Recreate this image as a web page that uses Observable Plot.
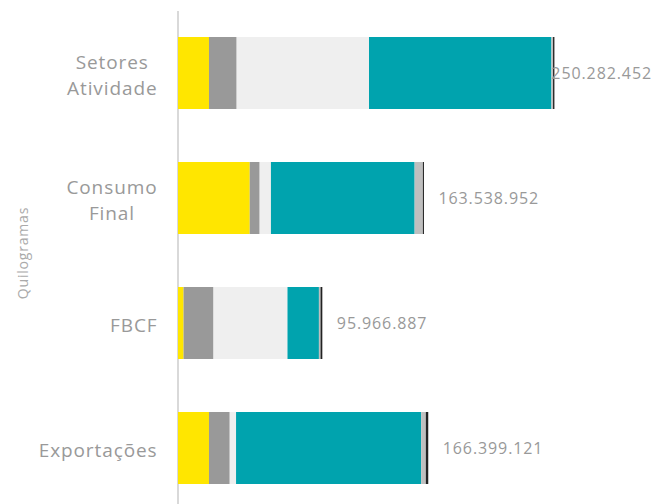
<!DOCTYPE html>
<html><head><meta charset="utf-8">
<script src="https://cdn.jsdelivr.net/npm/d3@7"></script>
<script src="https://cdn.jsdelivr.net/npm/@observablehq/plot@0.6"></script>
<style>
body{margin:0;background:#fff;}
g.cats text{letter-spacing:0.9px;}
g.totals text{letter-spacing:0.9px;}
g.ylab text{letter-spacing:0.8px;}
</style>
</head><body><div id="chart"></div>
<script>
const categories = ["Setores\nAtividade", "Consumo\nFinal", "FBCF", "Exportações"];
const totals = [250282452, 163538952, 95966887, 166399121];
const seriesNames = ["Série 1", "Série 2", "Série 3", "Série 4", "Série 5", "Série 6"];
const seriesColors = ["#FFE600", "#999999", "#EFEFEF", "#00A3AE", "#BFBFBF", "#222222"];
const s1 = [20600000, 47700000, 3700000, 20600000];
const s2 = [18400000, 6600000, 19900000, 13800000];
const s3 = [88000000, 7500000, 49200000, 4200000];
const s4 = [121282452, 95538952, 20900000, 123099121];
const s5 = [1100000, 5500000, 1100000, 3100000];
const s6 = [900000, 700000, 1166887, 1600000];
const yLabel = "Quilogramas";

const seriesValues = [s1, s2, s3, s4, s5, s6];
const data = [];
categories.forEach((c, i) => seriesValues.forEach((vals, j) =>
  data.push({category: c, series: seriesNames[j], value: vals[i]})));
const totalRows = categories.map((c, i) => ({category: c, total: totals[i]}));
const fmt = d3.formatLocale({decimal: ",", thousands: ".", grouping: [3], currency: ["", ""]}).format(",d");

const chart = Plot.plot({
  width: 657, height: 504,
  marginTop: 11, marginBottom: 0, marginLeft: 178, marginRight: 0,
  style: {fontFamily: "'Open Sans', sans-serif", background: "#fff"},
  x: {domain: [0, 318.5e6], axis: null},
  y: {domain: categories, range: [11, 504], paddingInner: 0.426, paddingOuter: 0.185, align: 0.569, axis: null},
  color: {domain: seriesNames, range: seriesColors},
  marks: [
    Plot.ruleX([0], {stroke: "#d9d9d9", strokeWidth: 2, dx: -0.5}),
    Plot.barX(data, {x: "value", y: "category", fill: "series"}),
    Plot.text(totalRows, {x: "total", y: "category", text: d => fmt(d.total), dx: 14, textAnchor: "start", fill: "#999", fontSize: 16, className: "totals"}),
    Plot.text(categories, {y: d => d, text: d => d, frameAnchor: "left", dx: -21, textAnchor: "end", lineHeight: 1.37, fontSize: 19, fill: "#999", className: "cats"}),
    Plot.text([yLabel], {text: d => d, frameAnchor: "left", dx: -155, dy: -5, rotate: -90, textAnchor: "middle", fontSize: 14, fill: "#aaa", className: "ylab"})
  ]
});
document.getElementById("chart").appendChild(chart);

// center multi-line category labels within a right-aligned block
chart.querySelectorAll("g.cats text").forEach(t => {
  const spans = t.querySelectorAll("tspan");
  if (spans.length > 1) {
    const W = Math.max(...Array.from(spans, s => s.getComputedTextLength()));
    t.setAttribute("text-anchor", "middle");
    spans.forEach(s => s.setAttribute("x", -W / 2));
  }
});
// keep total labels inside the chart
const box = chart.getBoundingClientRect();
chart.querySelectorAll("g.totals text").forEach(t => {
  const r = t.getBoundingClientRect();
  const over = r.right - (box.left + 652);
  if (over > 0) t.setAttribute("transform", (t.getAttribute("transform") || "") + ` translate(${-over},0)`);
});
</script>
</body></html>
